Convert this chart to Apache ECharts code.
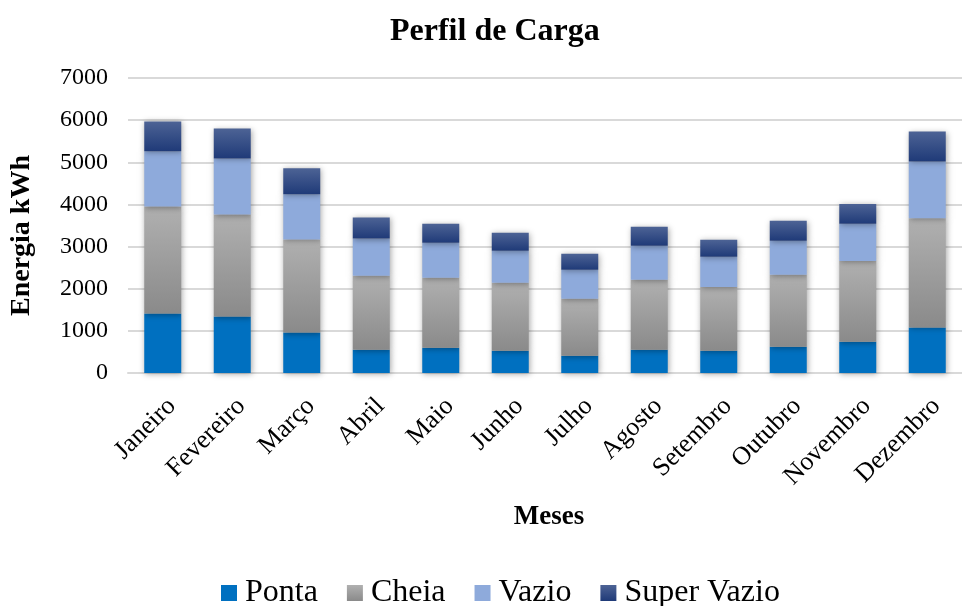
<!DOCTYPE html>
<html>
<head>
<meta charset="utf-8">
<script src="https://cdn.jsdelivr.net/npm/echarts@6/dist/echarts.min.js"></script>
<style>
  html, body { margin: 0; padding: 0; background: #fff; }
  #chart { width: 962px; height: 606px; }
</style>
</head>
<body>
<div id="chart"></div>
<script>
// monthly load profile (kWh)
var meses = ['Janeiro', 'Fevereiro', 'Março', 'Abril', 'Maio', 'Junho',
             'Julho', 'Agosto', 'Setembro', 'Outubro', 'Novembro', 'Dezembro'];
var ponta      = [1410, 1340, 960, 550, 600, 530, 410, 550, 530, 620, 740, 1080];
var cheia      = [2540, 2420, 2210, 1760, 1660, 1610, 1350, 1660, 1510, 1710, 1920, 2590];
var vazio      = [1310, 1330, 1070, 880, 830, 760, 690, 810, 720, 810, 880, 1350];
var superVazio = [710, 710, 620, 500, 450, 430, 380, 450, 400, 470, 470, 710];

var serif = '"Liberation Serif", "Times New Roman", serif';

function grad(top, bottom) {
  return new echarts.graphic.LinearGradient(0, 0, 0, 1, [
    {offset: 0, color: top},
    {offset: 1, color: bottom}
  ]);
}

function serie(name, data, color) {
  return {
    name: name,
    type: 'bar',
    stack: 'total',
    barWidth: 37,
    data: data,
    itemStyle: {
      color: color,
      shadowColor: 'rgba(0,0,0,0.35)',
      shadowBlur: 6,
      shadowOffsetX: 1,
      shadowOffsetY: 1
    }
  };
}

var chart = echarts.init(document.getElementById('chart'));
chart.setOption({
  animation: false,
  backgroundColor: '#fff',
  textStyle: {fontFamily: serif},
  title: {
    text: 'Perfil de Carga',
    left: 385,
    top: 11,
    textStyle: {fontFamily: serif, fontSize: 32, fontWeight: 'bold', color: '#000'}
  },
  legend: {
    top: 572,
    left: 216,
    icon: 'rect',
    itemWidth: 16,
    itemHeight: 16,
    itemGap: 29,
    textStyle: {fontFamily: serif, fontSize: 32, color: '#000', padding: [0, 0, 0, 3]},
    data: ['Ponta', 'Cheia', 'Vazio', 'Super Vazio']
  },
  grid: {left: 127, top: 78, width: 848, height: 295},
  xAxis: {
    type: 'category',
    data: meses,
    name: 'Meses',
    nameLocation: 'middle',
    nameGap: 131,
    nameTextStyle: {fontFamily: serif, fontSize: 27, fontWeight: 'bold', color: '#000', padding: [0, 0, 0, 8]},
    axisLine: {show: true, lineStyle: {color: '#d9d9d9', width: 2}},
    axisTick: {show: false},
    axisLabel: {
      rotate: 45,
      interval: 0,
      margin: 20,
      verticalAlign: 'top',
      fontFamily: serif,
      fontSize: 26,
      color: '#000'
    }
  },
  yAxis: {
    type: 'value',
    min: 0,
    max: 7000,
    interval: 1000,
    name: 'Energia kWh',
    nameLocation: 'middle',
    nameGap: 92,
    nameTextStyle: {fontFamily: serif, fontSize: 28, fontWeight: 'bold', color: '#000', padding: [0, 20, 0, 0]},
    axisLine: {show: false},
    axisTick: {show: false},
    axisLabel: {
      fontFamily: serif, fontSize: 24, color: '#000', margin: 20,
      formatter: function (v) { return String(v); }
    },
    splitLine: {lineStyle: {color: '#d9d9d9', width: 2}}
  },
  series: [
    serie('Ponta', ponta, '#0070c0'),
    serie('Cheia', cheia, grad('#b0b0b0', '#8a8a8a')),
    serie('Vazio', vazio, '#8eaadb'),
    serie('Super Vazio', superVazio, grad('#4d6395', '#1f3a78'))
  ]
});
</script>
</body>
</html>
